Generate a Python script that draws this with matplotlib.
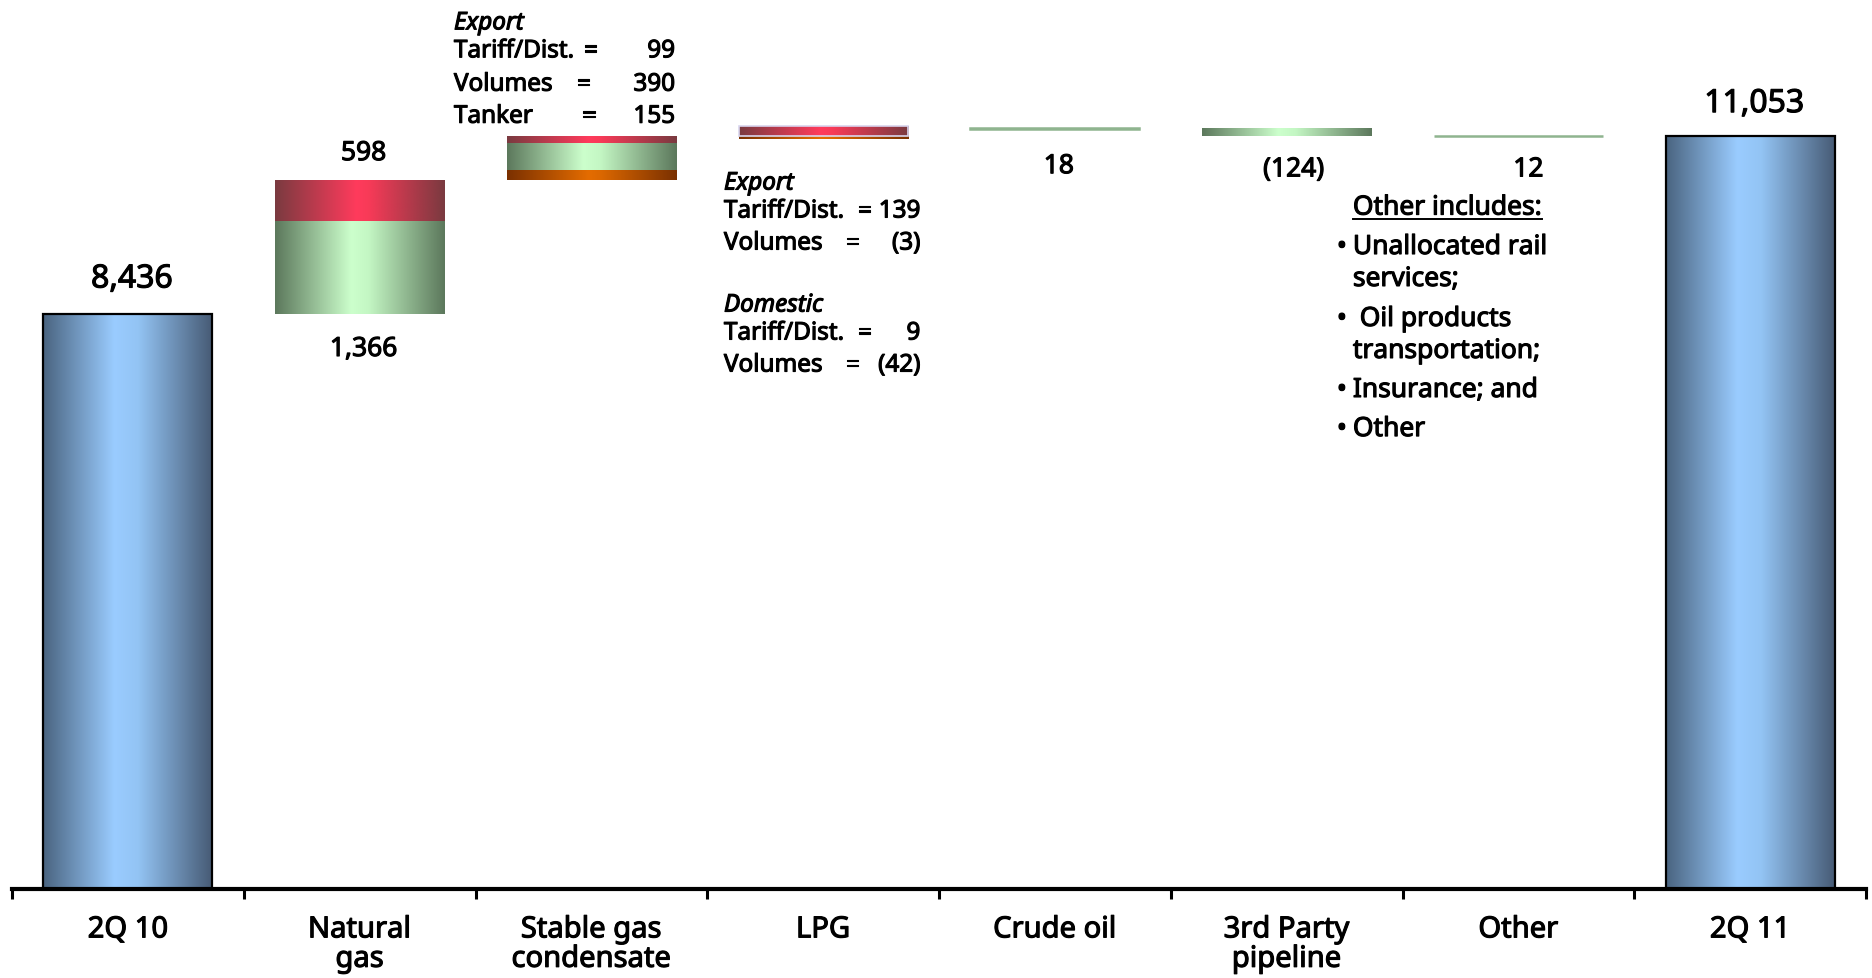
import matplotlib.pyplot as plt
import matplotlib.patheffects as pe
import numpy as np
from matplotlib.colors import LinearSegmentedColormap
from matplotlib.lines import Line2D
from matplotlib.text import Text

# ── data (RUB mn) ───────────────────────────────────────────────────────────
categories = ["2Q 10", "Natural\ngas", "Stable gas\ncondensate", "LPG",
              "Crude oil", "3rd Party\npipeline", "Other", "2Q 11"]

opening = 8436
closing = 11053

gas_volumes = 1366
gas_tariff = 598

sgc_tariff = 99
sgc_volumes = 390
sgc_tanker = 155

lpg_export_tariff = 139
lpg_export_volumes = -3
lpg_domestic_tariff = 9
lpg_domestic_volumes = -42

crude_oil = 18
third_party = -124
other = 12

other_items = ["Unallocated rail\nservices;", " Oil products\ntransportation;",
               "Insurance; and", "Other"]

# ── styling ─────────────────────────────────────────────────────────────────
plt.rcParams["font.family"] = ["Noto Sans", "DejaVu Sans"]
plt.rcParams["text.color"] = "black"

BAR_W = 0.73
RAMP = np.linspace(0.0, 1.0, 256).reshape(1, -1)

BLUE = LinearSegmentedColormap.from_list(
    "blue", [(0.0, "#4a6480"), (0.42, "#9accff"), (0.56, "#93c4f4"), (1.0, "#465a74")])
GREEN = LinearSegmentedColormap.from_list(
    "green", [(0.0, "#5c785c"), (0.45, "#ccffcc"), (0.55, "#c4f7c4"), (1.0, "#5c785c")])
RED = LinearSegmentedColormap.from_list(
    "red", [(0.0, "#7a3a40"), (0.48, "#ff3b5c"), (0.55, "#f83a58"), (1.0, "#7a3a40")])
ORANGE = LinearSegmentedColormap.from_list(
    "orange", [(0.0, "#7a3000"), (0.48, "#e46c00"), (0.55, "#dc6800"), (1.0, "#7a3000")])


def gradient_bar(ax, x, bottom, height, cmap, **kw):
    """Bar filled with a horizontal shading ramp, clipped to the bar outline."""
    bar = ax.bar(x, height, BAR_W, bottom=bottom, color="none", zorder=3, **kw)[0]
    x0, y0 = bar.get_x(), bar.get_y()
    im = ax.imshow(RAMP, cmap=cmap, aspect="auto", interpolation="bicubic",
                   extent=[x0, x0 + bar.get_width(), y0, y0 + bar.get_height()],
                   zorder=2)
    im.set_clip_path(bar)
    return bar


fig = plt.figure(figsize=(18.72, 9.79), dpi=100)
fig.patch.set_facecolor("white")
ax = fig.add_axes([12 / 1872, 89 / 979, 1854 / 1872, 890 / 979])

# totals
gradient_bar(ax, 0, 0, opening, BLUE, edgecolor="black", linewidth=1.6)
gradient_bar(ax, 7, 0, closing, BLUE, edgecolor="black", linewidth=1.6)

# natural gas: volumes then tariff
level = opening
gradient_bar(ax, 1, level, gas_volumes, GREEN)
gradient_bar(ax, 1, level + gas_volumes, gas_tariff, RED)
level += gas_volumes + gas_tariff

# stable gas condensate: tanker, volumes, tariff
gradient_bar(ax, 2, level, sgc_tanker, ORANGE)
gradient_bar(ax, 2, level + sgc_tanker, sgc_volumes, GREEN)
gradient_bar(ax, 2, level + sgc_tanker + sgc_volumes, sgc_tariff, RED)
level += sgc_tanker + sgc_volumes + sgc_tariff

# LPG: volume losses below, tariff gains above
lpg_up = lpg_export_tariff + lpg_domestic_tariff
lpg_down = lpg_export_volumes + lpg_domestic_volumes
gradient_bar(ax, 3, level + lpg_down, -lpg_down, ORANGE)
gradient_bar(ax, 3, level, lpg_up, RED, edgecolor="#d9d6ee", linewidth=1.2)
level += lpg_up + lpg_down

# small movements get a soft green rim so they stay visible
THIN = dict(edgecolor="#8fb48f", linewidth=1.8)
gradient_bar(ax, 4, level, crude_oil, GREEN, **THIN)
level += crude_oil
gradient_bar(ax, 5, level + third_party, -third_party, GREEN)
level += third_party
gradient_bar(ax, 6, level, other, GREEN, **THIN)
level += other
assert level == closing

# ── value labels ────────────────────────────────────────────────────────────
def label(x, y, text, dy, dx=4, size=19):
    ax.annotate(text, (x, y), xytext=(dx, dy), textcoords="offset pixels",
                ha="center", va="center", fontsize=size)


label(0, opening, f"{opening:,}", 35, size=23)
label(7, closing, f"{closing:,}", 32, size=23)
label(1, opening + gas_volumes + gas_tariff, f"{gas_tariff:,}", 27)
label(1, opening, f"{gas_volumes:,}", -35)
label(4, closing - other - third_party - crude_oil, f"{crude_oil}", -37)
label(5, closing - other, f"({-third_party})", -33, dx=7)
label(6, closing - other, f"{other}", -33, dx=10)


def fmt(v):
    return f"({-v})" if v < 0 else f"{v}"


def note_block(rows, x_left, x_num, size=17.5):
    """Rows of (text, value, y, x of '='); value None for an italic heading."""
    for text, value, y, eq_x in rows:
        if value is None:
            ax.text(x_left, y, text, ha="left", va="center", fontsize=size,
                    style="italic")
            continue
        ax.text(x_left, y, text, ha="left", va="center", fontsize=size)
        ax.text(eq_x, y, "=", ha="center", va="center", fontsize=size)
        ax.text(x_num, y, fmt(value), ha="right", va="center", fontsize=size)


note_block([
    ("Export", None, 12700, None),
    ("Tariff/Dist.", sgc_tariff, 12290, 1.995),
    ("Volumes", sgc_volumes, 11800, 1.965),
    ("Tanker", sgc_tanker, 11330, 1.990),
], x_left=1.407, x_num=2.362)

note_block([
    ("Export", None, 10350, None),
    ("Tariff/Dist.", lpg_export_tariff, 9940, 3.180),
    ("Volumes", lpg_export_volumes, 9470, 3.125),
    ("Domestic", None, 8560, None),
    ("Tariff/Dist.", lpg_domestic_tariff, 8150, 3.180),
    ("Volumes", lpg_domestic_volumes, 7680, 3.125),
], x_left=2.572, x_num=3.42)

title = ax.text(5.286, 9997, "Other includes:", ha="left", va="center", fontsize=19)
item_y = [9419, 8363, 7321, 6748]
LINE_STEP = 469
for text, y in zip(other_items, item_y):
    ax.text(5.217, y, "\u2022", ha="left", va="center", fontsize=19)
    for i, line in enumerate(text.split("\n")):
        ax.text(5.286, y - i * LINE_STEP, line, ha="left", va="center", fontsize=19)

# ── axes ────────────────────────────────────────────────────────────────────
ax.set_xlim(-0.5, len(categories) - 0.5)
ax.set_ylim(0, 890 / 0.06816)
for side in ("left", "top", "right"):
    ax.spines[side].set_visible(False)
ax.spines["bottom"].set_linewidth(3.0)
ax.set_yticks([])
ax.set_xticks(np.arange(len(categories) + 1) - 0.5)
ax.set_xticklabels([])
ax.set_xticks(np.arange(len(categories)), minor=True)
ax.set_xticklabels(categories, minor=True, fontsize=21, linespacing=1.02)
ax.tick_params(axis="x", which="major", length=7.5, width=2.2, direction="out")
ax.tick_params(axis="x", which="minor", length=0, pad=19)
ax.set_facecolor("none")

# thicken all lettering a touch
for t in fig.findobj(Text):
    t.set_path_effects([pe.withStroke(linewidth=0.8, foreground="black")])

# underline the "Other includes:" heading
fig.canvas.draw()
bb = title.get_window_extent().transformed(fig.transFigure.inverted())
fig.add_artist(Line2D([bb.x0, bb.x1], [bb.y0 + 0.003, bb.y0 + 0.003],
                      transform=fig.transFigure, color="black", lw=1.4))

fig.savefig("out.png", dpi=100)
